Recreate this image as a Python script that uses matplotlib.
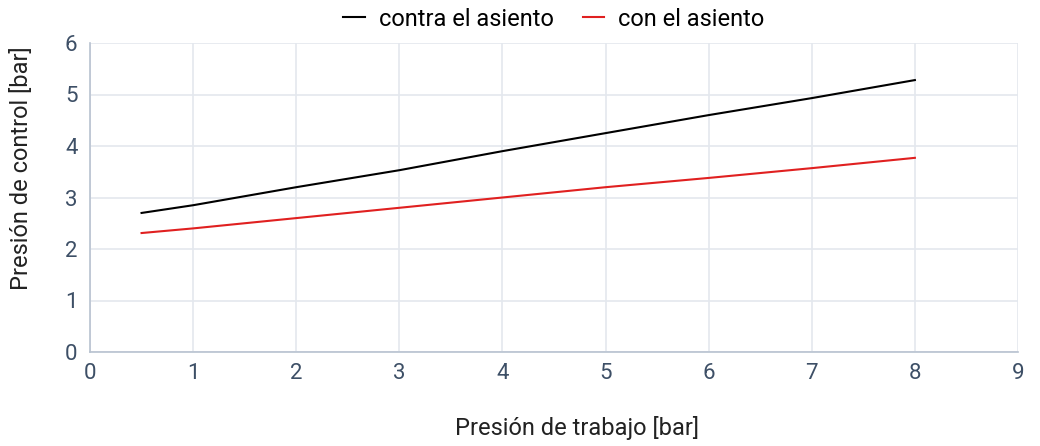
import matplotlib
matplotlib.use("Agg")
import matplotlib.pyplot as plt

plt.rcParams['font.family'] = ['Roboto', 'DejaVu Sans']

x = [0.5, 1, 2, 3, 4, 5, 6, 7, 8]
contra = [2.70, 2.85, 3.20, 3.53, 3.90, 4.25, 4.60, 4.93, 5.28]
con = [2.31, 2.40, 2.60, 2.80, 3.00, 3.20, 3.38, 3.57, 3.77]
series_names = ["contra el asiento", "con el asiento"]

fig = plt.figure(figsize=(10.4, 4.46), dpi=100)
ax = fig.add_axes([90/1040, (446-352)/446, (1018-90)/1040, (352-43)/446])

ax.plot(x, contra, color='black', lw=1.5, label=series_names[0])
ax.plot(x, con, color='#e02020', lw=1.5, label=series_names[1])

ax.set_xlim(0, 9)
ax.set_ylim(0, 6)
ax.set_xticks(range(0, 10))
ax.set_yticks(range(0, 7))
ax.grid(True, color='#e4e8ee', lw=1.2)
ax.set_axisbelow(True)
for s in ['top', 'right']:
    ax.spines[s].set_visible(False)
for s in ['left', 'bottom']:
    ax.spines[s].set_color('#b8c2d0')
    ax.spines[s].set_linewidth(1.2)
ax.tick_params(length=0, labelsize=16, colors='#3d4f66')
ax.tick_params(axis='x', pad=8)
ax.tick_params(axis='y', pad=9)

fig.text(577/1040, 1-428/446, "Presión de trabajo [bar]", fontsize=17, color='#222222',
         ha='center', va='center')
fig.text(22/1040, 1-168/446, "Presión de control [bar]", fontsize=17, color='#222222',
         ha='center', va='center', rotation=90)

leg = fig.legend(loc='center', bbox_to_anchor=(554/1040, 1-19/446), ncol=2, frameon=False,
                 fontsize=17, handlelength=0.9, columnspacing=1.25, handletextpad=0.6)

fig.savefig("out.png", dpi=100)
